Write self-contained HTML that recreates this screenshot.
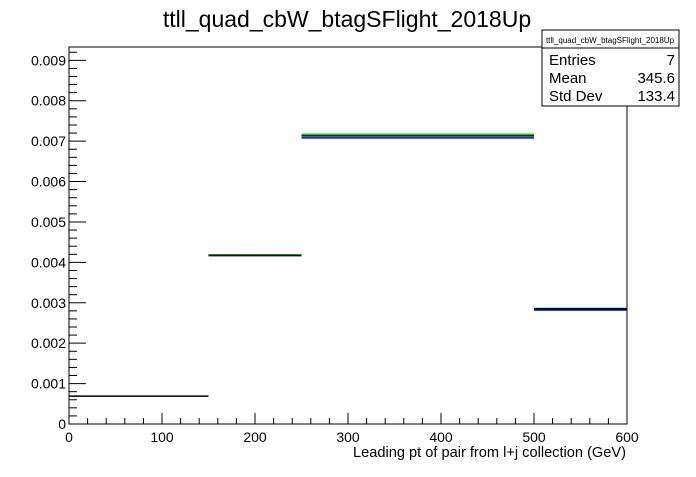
<!DOCTYPE html>
<html><head><meta charset="utf-8"><style>
body{margin:0;background:#fff;font-family:"Liberation Sans",sans-serif}
svg text{font-family:"Liberation Sans",sans-serif}
</style></head><body>
<svg id="c" width="696" height="472" xmlns="http://www.w3.org/2000/svg">
<rect width="696" height="472" fill="#fff"/>
<text x="347" y="27" font-size="23" text-anchor="middle">ttll_quad_cbW_btagSFlight_2018Up</text>
<rect x="69" y="47" width="558" height="377" fill="none" stroke="#000" stroke-width="1"/>
<g id="axes"></g>
<g id="series"></g>
<text x="626" y="457" font-size="14.6" text-anchor="end">Leading pt of pair from l+j collection (GeV)</text>
<g>
<rect x="542" y="30" width="137" height="76" fill="#fff" stroke="#000"/>
<line x1="542" y1="48" x2="679" y2="48" stroke="#000"/>
<text x="610" y="43" font-size="8" text-anchor="middle">ttll_quad_cbW_btagSFlight_2018Up</text>
<text x="549" y="65" font-size="15">Entries</text><text x="675" y="65" font-size="15" text-anchor="end">7</text>
<text x="549" y="83" font-size="15">Mean</text><text x="675" y="83" font-size="15" text-anchor="end">345.6</text>
<text x="549" y="101" font-size="15">Std Dev</text><text x="675" y="101" font-size="15" text-anchor="end">133.4</text>
</g>
</svg>
<script>
const binEdges=[0,150,250,500,600];
const seriesBlack=[0.00069,0.00417,0.00713,0.00285];
const seriesGreen=[null,0.00419,0.00717,0.00286];
const seriesBlue=[null,0.00417,0.00708,0.00282];
const xTicks=[0,100,200,300,400,500,600];
const yTicks=[0,0.001,0.002,0.003,0.004,0.005,0.006,0.007,0.008,0.009];
const yTickLabels=["0","0.001","0.002","0.003","0.004","0.005","0.006","0.007","0.008","0.009"];
const X0=69,X1=627,Y0=424,Y1=47,XMAX=600,YMAX=0.00933;
const sx=v=>X0+(v/XMAX)*(X1-X0);
const sy=v=>Y0-(v/YMAX)*(Y0-Y1);
const NS="http://www.w3.org/2000/svg";
function mk(t,a,p){const e=document.createElementNS(NS,t);for(const k in a)e.setAttribute(k,a[k]);p.appendChild(e);return e;}
const ax=document.getElementById('axes');
xTicks.forEach((v,i)=>{
 const l=mk('line',{x1:sx(v),x2:sx(v),y1:Y0,y2:Y0-11,stroke:'#000'},ax);
 
 
 const t=mk('text',{x:sx(v),y:Y0+18,'font-size':14,'text-anchor':'middle'},ax);t.textContent=v;
 
 
 if(i<xTicks.length-1)for(let k=1;k<5;k++){const m=mk('line',{x1:sx(v+k*20),x2:sx(v+k*20),y1:Y0,y2:Y0-6,stroke:'#000'},ax);
 
 }
});
yTicks.forEach((v,i)=>{
 const l=mk('line',{x1:X0,x2:X0+17,y1:sy(v),y2:sy(v),stroke:'#000'},ax);
 
 
 const t=mk('text',{x:X0-3,y:sy(v)+5,'font-size':14,'text-anchor':'end'},ax);t.textContent=yTickLabels[i];
 
 
 for(let k=1;k<5;k++){const mv=v+k*0.0002;if(mv>YMAX)break;const m=mk('line',{x1:X0,x2:X0+8,y1:sy(mv),y2:sy(mv),stroke:'#000'},ax);
 
 }
});
const sg=document.getElementById('series');
function draw(vals,color,name){vals.forEach((v,i)=>{if(v==null)return;
 const l=mk('line',{x1:sx(binEdges[i]),x2:sx(binEdges[i+1]),y1:sy(v),y2:sy(v),stroke:color,'stroke-width':1.5},sg);
 
 });}
draw(seriesBlue,'#0000ff','bin-blue');
draw(seriesGreen,'#00dd00','bin-green');
draw(seriesBlack,'#000','bin-black');
</script>
</body></html>
